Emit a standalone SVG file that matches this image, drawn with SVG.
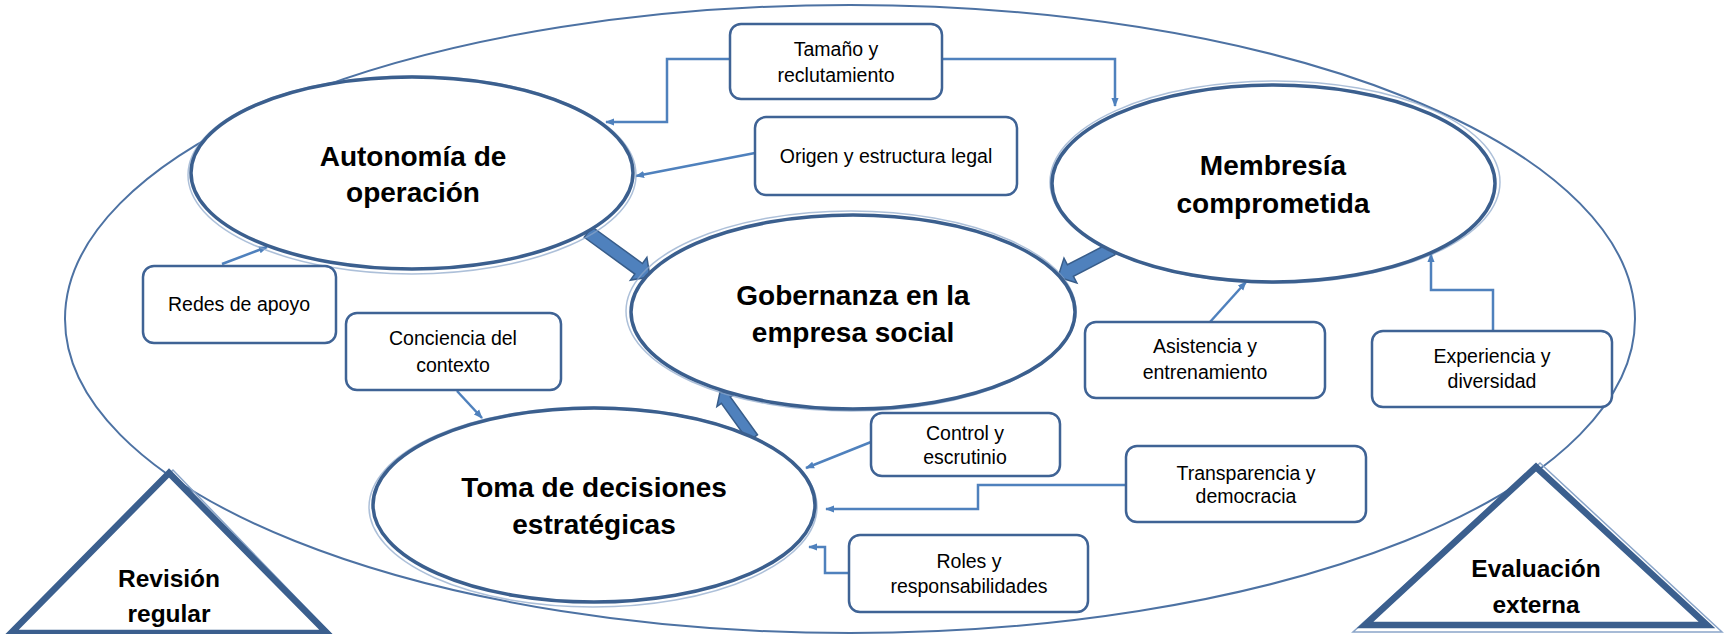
<svg xmlns="http://www.w3.org/2000/svg" width="1725" height="634" viewBox="0 0 1725 634">
<defs>
<style>
.bg{fill:#ffffff}
.outer{fill:none;stroke:#4d72a3;stroke-width:2}
.ell{fill:#ffffff;stroke:#3b5f8e;stroke-width:3.5}
.halo{fill:none;stroke:#8aa5c9;stroke-width:1.5;opacity:0.7}
.box{fill:#ffffff;stroke:#3f6395;stroke-width:2.5}
.tri{fill:#ffffff;stroke:#3b5f8e;stroke-width:6.5;stroke-linejoin:miter}
.trish{fill:none;stroke:#8aa5c9;stroke-width:1.5}
.con{fill:none;stroke:#4f81bd;stroke-width:2.5;marker-end:url(#ah)}
.big{fill:#4f81bd;stroke:#385d8a;stroke-width:1.5;stroke-linejoin:miter}
.t1{font-family:"Liberation Sans",Arial,sans-serif;font-size:28px;font-weight:bold;fill:#000;text-anchor:middle}
.t2{font-family:"Liberation Sans",Arial,sans-serif;font-size:19.5px;fill:#000;text-anchor:middle}
.t3{font-family:"Liberation Sans",Arial,sans-serif;font-size:24.5px;font-weight:bold;fill:#000;text-anchor:middle}
</style>
<marker id="ah" viewBox="0 0 10 10" refX="9" refY="5" markerWidth="9" markerHeight="9" markerUnits="userSpaceOnUse" orient="auto">
<path d="M0,1 L10,5 L0,9 z" fill="#4f81bd"/>
</marker>
</defs>
<rect class="bg" x="0" y="0" width="1725" height="634"/>
<g id="contexto">
<ellipse class="outer" cx="850" cy="319" rx="785" ry="314"/>
</g>
<g id="connectors">
<path class="con" d="M730,59 H667 V122 H606"/>
<path class="con" d="M942,59 H1115 V106"/>
<path class="con" d="M755,153 L636,176"/>
<path class="con" d="M222,264 L267,247"/>
<path class="con" d="M457,391 L482,418"/>
<path class="con" d="M1210,322 L1246,282"/>
<path class="con" d="M1493,331 V290 H1431 V254"/>
<path class="con" d="M871,442 L806,468"/>
<path class="con" d="M1126,485 H978 V509 H826"/>
<path class="con" d="M849,573 H825 V547 H809"/>
<polygon class="big" points="584.18,237.26 634.85,274.04 630.45,280.11 650,277 646.89,257.45 642.49,263.52 591.82,226.74"/>
<polygon class="big" points="1109.01,243.23 1067.44,264.79 1063.99,258.13 1058,277 1076.87,282.99 1073.42,276.33 1114.99,254.77"/>
<polygon class="big" points="757.47,434.79 730.30,396.92 734.77,393.72 720,392 716.89,406.54 721.36,403.34 748.53,441.21"/>
</g>
<g id="autonomia">
<ellipse class="halo" cx="412" cy="175" rx="224" ry="99"/>
<ellipse class="ell" cx="412" cy="173" rx="221" ry="96"/>
<text class="t1" x="413" y="166">Autonomía de</text>
<text class="t1" x="413" y="202">operación</text>
</g>
<g id="membresia">
<ellipse class="halo" cx="1275" cy="182" rx="225" ry="101"/>
<ellipse class="ell" cx="1273.5" cy="183.5" rx="221.5" ry="98.5"/>
<text class="t1" x="1273" y="175">Membresía</text>
<text class="t1" x="1273" y="213">comprometida</text>
</g>
<g id="gobernanza">
<ellipse class="halo" cx="851" cy="311" rx="225" ry="100"/>
<ellipse class="ell" cx="853" cy="312" rx="222" ry="97"/>
<text class="t1" x="853" y="305">Gobernanza en la</text>
<text class="t1" x="853" y="342">empresa social</text>
</g>
<g id="toma">
<ellipse class="halo" cx="593" cy="507" rx="224" ry="100"/>
<ellipse class="ell" cx="594" cy="505" rx="221" ry="97"/>
<text class="t1" x="594" y="497">Toma de decisiones</text>
<text class="t1" x="594" y="534">estratégicas</text>
</g>
<g id="tamano">
<rect class="box" x="730" y="24" width="212" height="75" rx="11"/>
<text class="t2" x="836" y="56">Tamaño y</text>
<text class="t2" x="836" y="82">reclutamiento</text>
</g>
<g id="origen">
<rect class="box" x="755" y="117" width="262" height="78" rx="11"/>
<text class="t2" x="886" y="163">Origen y estructura legal</text>
</g>
<g id="redes">
<rect class="box" x="143" y="266" width="193" height="77" rx="11"/>
<text class="t2" x="239" y="311">Redes de apoyo</text>
</g>
<g id="conciencia">
<rect class="box" x="346" y="313" width="215" height="77" rx="11"/>
<text class="t2" x="453" y="345">Conciencia del</text>
<text class="t2" x="453" y="372">contexto</text>
</g>
<g id="asistencia">
<rect class="box" x="1085" y="322" width="240" height="76" rx="11"/>
<text class="t2" x="1205" y="353">Asistencia y</text>
<text class="t2" x="1205" y="379">entrenamiento</text>
</g>
<g id="experiencia">
<rect class="box" x="1372" y="331" width="240" height="76" rx="11"/>
<text class="t2" x="1492" y="363">Experiencia y</text>
<text class="t2" x="1492" y="388">diversidad</text>
</g>
<g id="control">
<rect class="box" x="871" y="413" width="189" height="63" rx="11"/>
<text class="t2" x="965" y="440">Control y</text>
<text class="t2" x="965" y="464">escrutinio</text>
</g>
<g id="transparencia">
<rect class="box" x="1126" y="446" width="240" height="76" rx="11"/>
<text class="t2" x="1246" y="480">Transparencia y</text>
<text class="t2" x="1246" y="503">democracia</text>
</g>
<g id="roles">
<rect class="box" x="849" y="535" width="239" height="77" rx="11"/>
<text class="t2" x="969" y="568">Roles y</text>
<text class="t2" x="969" y="593">responsabilidades</text>
</g>
<g id="revision">
<polygon class="trish" points="173,470 6,636 333,636"/>
<polygon class="tri" points="169,473 11,633 327,633"/>
<text class="t3" x="169" y="587">Revisión</text>
<text class="t3" x="169" y="622">regular</text>
</g>
<g id="evaluacion">
<polygon class="trish" points="1540,463 1353,632 1722,632"/>
<polygon class="tri" points="1536,467 1365,625 1707,625"/>
<text class="t3" x="1536" y="577">Evaluación</text>
<text class="t3" x="1536" y="613">externa</text>
</g>
</svg>
